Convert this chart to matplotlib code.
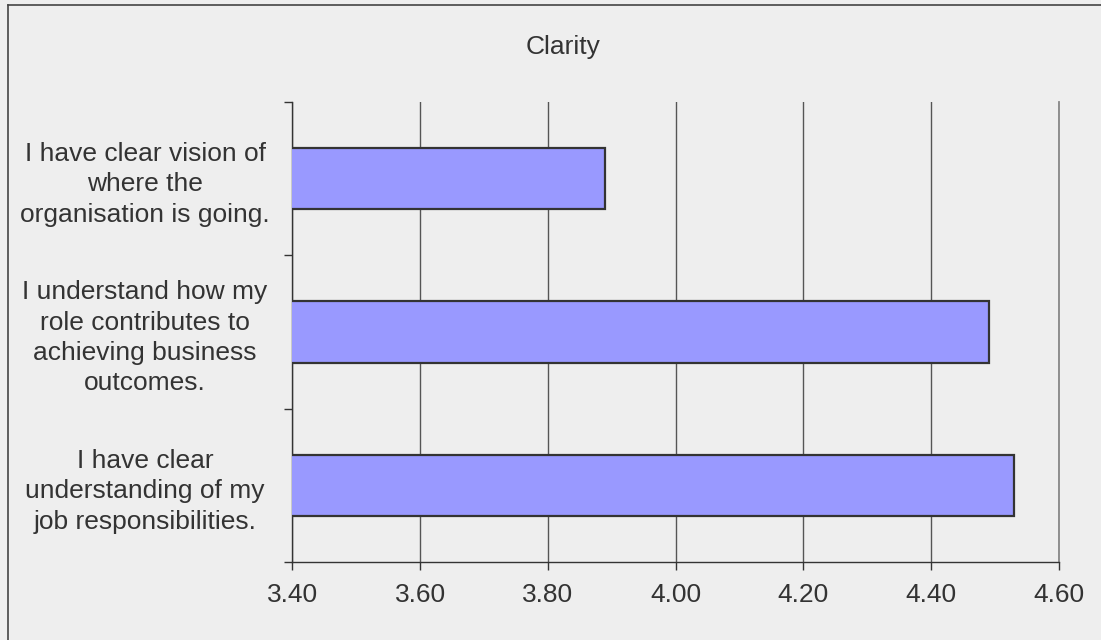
import matplotlib
matplotlib.use("Agg")
import matplotlib.pyplot as plt
from matplotlib.lines import Line2D

# Survey items (bottom to top) and their mean scores
categories = [
    "I have clear\nunderstanding of my\njob responsibilities.",
    "I understand how my\nrole contributes to\nachieving business\noutcomes.",
    "I have clear vision of\nwhere the\norganisation is going.",
]
scores = [4.53, 4.49, 3.89]
x_ticks = [3.40, 3.60, 3.80, 4.00, 4.20, 4.40, 4.60]
title = "Clarity"

bg = "#eeeeee"
text_color = "#333333"
plt.rcParams["font.family"] = ["Liberation Sans", "DejaVu Sans"]

fig = plt.figure(figsize=(11.01, 6.40), dpi=100, facecolor=bg)
ax = fig.add_axes([292.3 / 1101, 1 - 562 / 640, (1059 - 292.3) / 1101, (562 - 102) / 640])
ax.set_facecolor(bg)

ypos = list(range(len(categories)))
ax.barh(ypos, scores, height=0.4, left=0, color="#9999ff",
        edgecolor="#333333", linewidth=1.6, zorder=3)

ax.set_xlim(x_ticks[0], x_ticks[-1])
ax.set_ylim(-0.5, len(categories) - 0.5)

ax.set_xticks(x_ticks)
ax.set_xticklabels([f"{t:.2f}" for t in x_ticks], fontsize=19, color=text_color)
ax.xaxis.grid(True, color="#555555", linewidth=1.0, zorder=1)

ax.set_yticks(ypos)
ax.set_yticklabels(categories, fontsize=19, color=text_color)
for lbl in ax.get_yticklabels():
    lbl.set_horizontalalignment("center")
    lbl.set_multialignment("center")
    lbl.set_linespacing(1.34)
ax.set_yticks([y - 0.5 for y in ypos] + [len(categories) - 0.5], minor=True)

ax.tick_params(axis="y", which="major", length=0, pad=106)
ax.tick_params(axis="y", which="minor", length=6, width=1, color="#333333", direction="out")
ax.tick_params(axis="x", which="major", length=6, width=1, color="#333333",
               direction="out", pad=9)

ax.spines["top"].set_visible(False)
ax.spines["right"].set_color("#888888")
ax.spines["right"].set_linewidth(1.3)
for side in ["left", "bottom"]:
    ax.spines[side].set_color("#333333")
    ax.spines[side].set_linewidth(1.0)

fig.text(563 / 1101, 1 - 47 / 640, title, ha="center", va="center",
         fontsize=19, color=text_color)

# Frame edges along the top and left of the figure
fig.add_artist(Line2D([8 / 1101, 1], [1 - 5 / 640, 1 - 5 / 640],
                      transform=fig.transFigure, color="#444444", linewidth=1.2))
fig.add_artist(Line2D([8 / 1101, 8 / 1101], [0, 1 - 5 / 640],
                      transform=fig.transFigure, color="#444444", linewidth=1.2))

fig.savefig("out.png", dpi=100, facecolor=bg)
